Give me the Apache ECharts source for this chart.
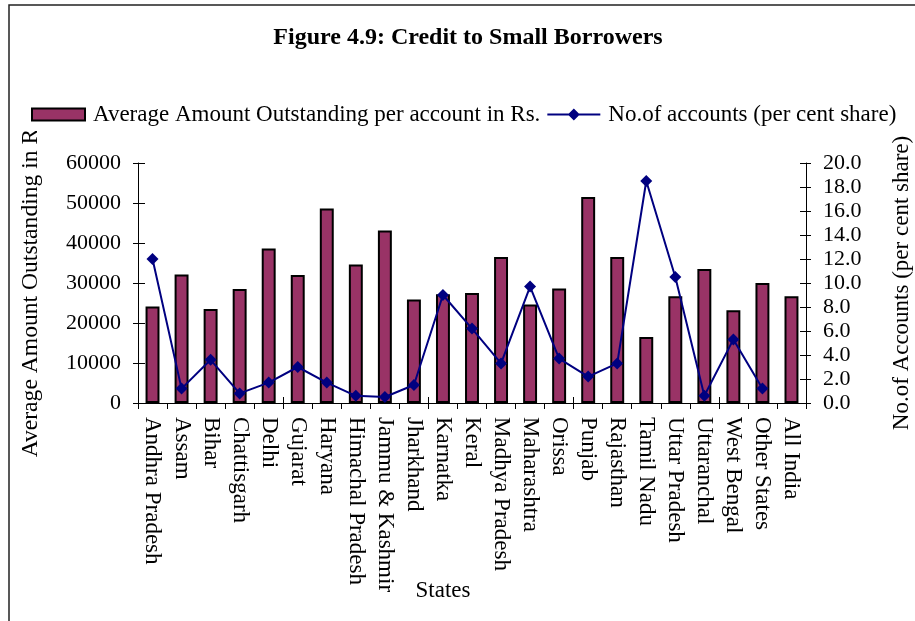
<!DOCTYPE html>
<html>
<head>
<meta charset="utf-8">
<script src="https://cdn.jsdelivr.net/npm/echarts@6/dist/echarts.min.js"></script>
<style>
  html, body { margin: 0; padding: 0; background: #fff; }
  #chart { width: 915px; height: 621px; }
</style>
</head>
<body>
<div id="chart"></div>
<script>
// Credit to small borrowers by state
const states = [
  'Andhra Pradesh', 'Assam', 'Bihar', 'Chattisgarh', 'Delhi', 'Gujarat',
  'Haryana', 'Himachal Pradesh', 'Jammu & Kashmir', 'Jharkhand', 'Karnatka',
  'Keral', 'Madhya Pradesh', 'Maharashtra', 'Orissa', 'Punjab', 'Rajasthan',
  'Tamil Nadu', 'Uttar Pradesh', 'Uttaranchal', 'West Bengal', 'Other States',
  'All India'
];

// Average amount outstanding per account (Rs.)
const avgAmount = [
  24100, 32100, 23500, 28500, 38600, 32000,
  48600, 34600, 43100, 25900, 27200,
  27500, 36500, 24600, 28600, 51500, 36500,
  16500, 26700, 33500, 23200, 30000,
  26700
];

// Share of accounts (per cent); no point for All India
const accountShare = [
  12.0, 1.2, 3.6, 0.8, 1.7, 3.0,
  1.7, 0.6, 0.5, 1.5, 9.0,
  6.2, 3.3, 9.7, 3.7, 2.2, 3.3,
  18.5, 10.5, 0.6, 5.3, 1.2,
  null
];

const leftTicks = { min: 0, max: 60000, interval: 10000 };
const rightTicks = { min: 0, max: 20, interval: 2 };

const FONT = "'Liberation Serif', 'Times New Roman', serif";
const INK = '#000';
const NAVY = '#000080';

const barName = 'Average Amount Outstanding per account in Rs.';
const lineName = 'No.of accounts (per cent share)';

const chart = echarts.init(document.getElementById('chart'), null, { renderer: 'canvas' });

const baseText = { fontFamily: FONT, color: INK };

chart.setOption({
  animation: false,
  backgroundColor: '#fff',
  textStyle: { fontFamily: FONT },
  graphic: [{
    type: 'rect',
    shape: { x: 9, y: 5, width: 1200, height: 1200 },
    style: { fill: 'none', stroke: '#222', lineWidth: 1.5 },
    silent: true
  }],
  title: {
    text: 'Figure 4.9: Credit to Small Borrowers',
    left: 463,
    textAlign: 'center',
    top: 21,
    textStyle: { ...baseText, fontSize: 24, fontWeight: 'bold' }
  },
  legend: {
    left: 16,
    top: 100,
    padding: [3, 5, 5, 15],
    itemGap: 7,
    itemWidth: 53,
    itemHeight: 12,
    backgroundColor: '#fff',
    z: 10,
    textStyle: { ...baseText, fontSize: 23, padding: [0, 0, 0, 3] },
    data: [
      { name: barName, icon: 'rect' },
      // line with a diamond in the middle
      { name: lineName, icon: 'path://M0 5H53V7H0Z M26.5 0L32.5 6L26.5 12L20.5 6Z' }
    ]
  },
  grid: {
    left: 138, right: 109, top: 163, height: 240,
    containLabel: false, outerBoundsMode: 'none'
  },
  xAxis: [{
    type: 'category',
    data: states,
    position: 'bottom',
    boundaryGap: true,
    name: 'States',
    nameLocation: 'middle',
    nameGap: 176,
    nameMoveOverlap: false,
    nameTextStyle: { ...baseText, fontSize: 23, padding: [0, 58, 0, 0] },
    axisLine: { lineStyle: { color: INK, width: 1 } },
    axisTick: { show: true, inside: false, length: 6, lineStyle: { color: INK } },
    axisLabel: { ...baseText, fontSize: 23, rotate: -90, margin: 14, interval: 0 },
    splitLine: { show: false }
  }, {
    type: 'category',
    data: states,
    position: 'bottom',
    boundaryGap: true,
    axisLine: { show: false },
    axisTick: { show: true, inside: true, length: 6, lineStyle: { color: INK } },
    axisLabel: { show: false },
    splitLine: { show: false }
  }],
  yAxis: [{
    type: 'value',
    position: 'left',
    ...leftTicks,
    name: 'Average Amount Outstanding in Rs.',
    nameLocation: 'middle',
    nameRotate: 90,
    nameGap: 95,
    nameMoveOverlap: false,
    nameTextStyle: { ...baseText, fontSize: 23.6, padding: [0, 5, 0, 0] },
    axisLine: { show: true, lineStyle: { color: INK, width: 1 } },
    axisTick: { show: true, inside: false, length: 5, lineStyle: { color: INK } },
    axisLabel: { ...baseText, fontSize: 22, margin: 17, formatter: v => String(v) },
    splitLine: { show: false }
  }, {
    type: 'value',
    position: 'right',
    ...rightTicks,
    name: 'No.of Accounts (per cent share)',
    nameLocation: 'middle',
    nameRotate: 90,
    nameGap: 84,
    nameMoveOverlap: false,
    nameTextStyle: { ...baseText, fontSize: 23 },
    axisLine: { show: true, lineStyle: { color: INK, width: 1 } },
    axisTick: { show: true, inside: false, length: 5, lineStyle: { color: INK } },
    axisLabel: { ...baseText, fontSize: 22, margin: 17, formatter: v => v.toFixed(1) },
    splitLine: { show: false }
  }, {
    type: 'value',
    position: 'left',
    ...leftTicks,
    axisLine: { show: false },
    axisTick: { show: true, inside: true, length: 7, lineStyle: { color: INK } },
    axisLabel: { show: false },
    splitLine: { show: false }
  }, {
    type: 'value',
    position: 'right',
    ...rightTicks,
    axisLine: { show: false },
    axisTick: { show: true, inside: true, length: 6, lineStyle: { color: INK } },
    axisLabel: { show: false },
    splitLine: { show: false }
  }],
  series: [{
    name: barName,
    type: 'bar',
    xAxisIndex: 0,
    yAxisIndex: 0,
    data: avgAmount,
    barWidth: '48%',
    itemStyle: { color: '#993366', borderColor: '#000', borderWidth: 2 }
  }, {
    name: lineName,
    type: 'line',
    xAxisIndex: 0,
    yAxisIndex: 1,
    data: accountShare,
    symbol: 'diamond',
    symbolSize: 12,
    showSymbol: true,
    connectNulls: false,
    lineStyle: { color: NAVY, width: 2 },
    itemStyle: { color: NAVY, borderWidth: 0 },
    z: 3
  }]
});
</script>
</body>
</html>
